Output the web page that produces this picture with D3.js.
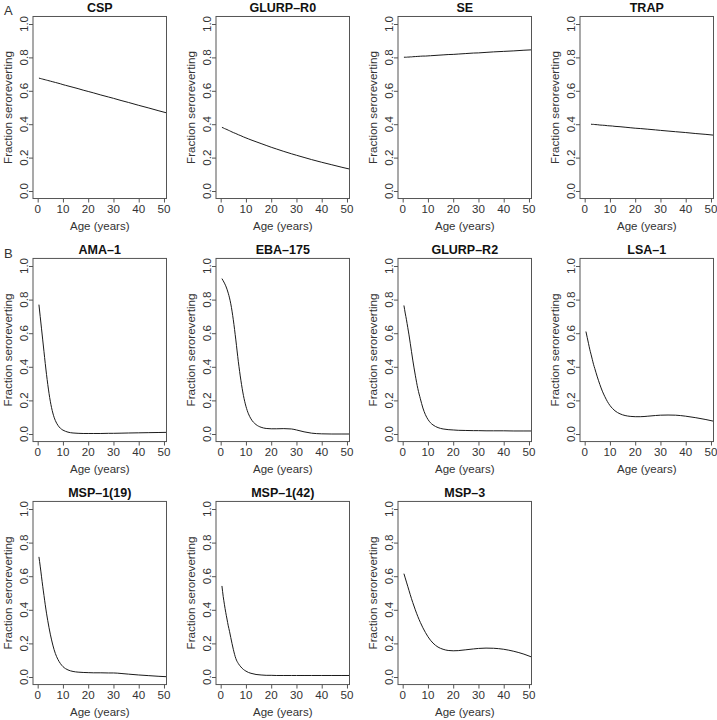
<!DOCTYPE html>
<html>
<head>
<meta charset="utf-8">
<script src="https://cdn.jsdelivr.net/npm/d3@7"></script>
<style>
  html, body { margin: 0; padding: 0; background: #fff; }
  svg { display: block; font-family: "Liberation Sans", Arial, Helvetica, sans-serif; }
</style>
</head>
<body>
<svg id="chart" width="717" height="720"></svg>
<script>
// ---------------- DATA ----------------
const antigens = ["CSP", "GLURP–R0", "SE", "TRAP", "AMA–1", "EBA–175", "GLURP–R2", "LSA–1", "MSP–1(19)", "MSP–1(42)", "MSP–3"];
const sectionLabels = ["A", "B"];
const xTicks = [0, 10, 20, 30, 40, 50];
const yTicks = [0, 0.2, 0.4, 0.6, 0.8, 1.0];
const xTitle = "Age (years)";
const yTitle = "Fraction seroreverting";

const ages = [0.5, 1, 1.5, 2, 2.5, 3, 3.5, 4, 5, 6, 7, 8, 9, 10, 11, 12, 14, 16, 18, 20, 22, 25, 28, 30, 33, 36, 40, 44, 48, 52];

const csp     = [0.676, 0.674, 0.672, 0.670, 0.668, 0.666, 0.664, 0.662, 0.658, 0.654, 0.650, 0.646, 0.642, 0.637, 0.633, 0.629, 0.621, 0.613, 0.604, 0.596, 0.588, 0.575, 0.563, 0.555, 0.542, 0.530, 0.513, 0.497, 0.480, 0.464];
const glurpR0 = [0.381, 0.378, 0.374, 0.371, 0.368, 0.364, 0.361, 0.357, 0.350, 0.344, 0.337, 0.331, 0.324, 0.318, 0.312, 0.306, 0.295, 0.284, 0.273, 0.262, 0.252, 0.237, 0.223, 0.214, 0.201, 0.188, 0.172, 0.157, 0.142, 0.128];
const se      = [0.801, 0.801, 0.801, 0.802, 0.802, 0.803, 0.803, 0.804, 0.805, 0.806, 0.807, 0.808, 0.808, 0.809, 0.810, 0.811, 0.813, 0.815, 0.817, 0.818, 0.820, 0.823, 0.826, 0.827, 0.830, 0.833, 0.836, 0.839, 0.843, 0.846];
const trap    = [null, null, null, null, 0.400, 0.399, 0.399, 0.398, 0.397, 0.395, 0.394, 0.393, 0.391, 0.390, 0.389, 0.387, 0.385, 0.382, 0.379, 0.376, 0.374, 0.370, 0.366, 0.363, 0.359, 0.355, 0.350, 0.344, 0.339, 0.333];
const ama1    = [0.770, 0.700, 0.630, 0.560, 0.490, 0.420, 0.355, 0.295, 0.195, 0.125, 0.080, 0.052, 0.034, 0.023, 0.016, 0.011, 0.006, 0.004, 0.003, 0.003, 0.003, 0.003, 0.004, 0.004, 0.005, 0.006, 0.007, 0.008, 0.009, 0.010];
const eba175  = [0.925, 0.912, 0.898, 0.882, 0.862, 0.838, 0.810, 0.775, 0.680, 0.560, 0.430, 0.320, 0.230, 0.165, 0.120, 0.090, 0.056, 0.040, 0.033, 0.031, 0.031, 0.032, 0.030, 0.024, 0.013, 0.005, 0.001, 0.000, 0.000, 0.000];
const glurpR2 = [0.765, 0.720, 0.680, 0.635, 0.590, 0.540, 0.490, 0.440, 0.350, 0.270, 0.210, 0.155, 0.115, 0.087, 0.067, 0.054, 0.038, 0.030, 0.026, 0.024, 0.022, 0.021, 0.020, 0.020, 0.019, 0.019, 0.019, 0.018, 0.018, 0.018];
const lsa1    = [0.610, 0.575, 0.540, 0.505, 0.475, 0.445, 0.415, 0.390, 0.340, 0.295, 0.255, 0.222, 0.193, 0.170, 0.152, 0.138, 0.120, 0.110, 0.105, 0.103, 0.103, 0.106, 0.110, 0.112, 0.113, 0.112, 0.106, 0.097, 0.086, 0.073];
const msp119  = [0.715, 0.660, 0.600, 0.540, 0.485, 0.430, 0.380, 0.335, 0.255, 0.190, 0.140, 0.105, 0.080, 0.062, 0.050, 0.042, 0.033, 0.029, 0.027, 0.026, 0.025, 0.025, 0.024, 0.024, 0.021, 0.017, 0.012, 0.008, 0.004, 0.001];
const msp142  = [0.542, 0.480, 0.430, 0.385, 0.345, 0.305, 0.272, 0.235, 0.165, 0.110, 0.080, 0.060, 0.045, 0.035, 0.027, 0.022, 0.015, 0.012, 0.010, 0.010, 0.009, 0.009, 0.009, 0.009, 0.009, 0.009, 0.009, 0.009, 0.009, 0.009];
const msp3    = [0.615, 0.590, 0.565, 0.540, 0.515, 0.490, 0.466, 0.443, 0.400, 0.360, 0.325, 0.293, 0.265, 0.240, 0.219, 0.202, 0.178, 0.165, 0.158, 0.156, 0.157, 0.162, 0.167, 0.170, 0.172, 0.171, 0.165, 0.153, 0.136, 0.113];

const seriesList = [csp, glurpR0, se, trap, ama1, eba175, glurpR2, lsa1, msp119, msp142, msp3];

// ---------------- LAYOUT ----------------
const colLeft = [33, 216, 398, 580];
const boxW = 133.5;
const rowY0 = [191, 434, 677];   // pixel of value 0
const rowY1 = [24, 266, 509];    // pixel of value 1
const xDomain = [-1.85, 51.0];
const yDomain = [-0.045, 1.045];
const panelRowCol = [[0,0],[0,1],[0,2],[0,3],[1,0],[1,1],[1,2],[1,3],[2,0],[2,1],[2,2]];

const boxColor = "#555";
const textColor = "#333";

const svg = d3.select("#chart");
const defs = svg.append("defs");

antigens.forEach((name, i) => {
  const [r, c] = panelRowCol[i];
  const L = colLeft[c];
  const x = d3.scaleLinear().domain(xDomain).range([L, L + boxW]);
  const y = d3.scaleLinear().domain([0, 1]).range([rowY0[r], rowY1[r]]);
  const top = y(yDomain[1]), bottom = y(yDomain[0]);
  const g = svg.append("g");

  defs.append("clipPath").attr("id", "clip" + i)
    .append("rect").attr("x", L).attr("y", top).attr("width", boxW).attr("height", bottom - top);

  const xAxis = d3.axisBottom(x).tickValues(xTicks).tickSize(4).tickFormat("");
  const gx = g.append("g").attr("transform", `translate(0,${bottom})`).call(xAxis);
  gx.select(".domain").remove();
  gx.selectAll("line").attr("stroke", boxColor);

  const yAxis = d3.axisLeft(y).tickValues(yTicks).tickSize(4).tickFormat("");
  const gy = g.append("g").attr("transform", `translate(${L},0)`).call(yAxis);
  gy.select(".domain").remove();
  gy.selectAll("line").attr("stroke", boxColor);

  g.selectAll(".xl").data(xTicks).join("text")
    .attr("x", d => x(d)).attr("y", bottom + 14.5)
    .attr("text-anchor", "middle").attr("font-size", 11.6).attr("fill", textColor)
    .text(d => d);
  g.selectAll(".yl").data(yTicks).join("text")
    .attr("transform", d => `translate(${L - 5},${y(d)}) rotate(-90)`)
    .attr("text-anchor", "middle").attr("font-size", 11.6).attr("fill", textColor)
    .text(d => d3.format(".1f")(d));

  g.append("text")
    .attr("x", L + boxW / 2).attr("y", bottom + 31.5)
    .attr("text-anchor", "middle").attr("font-size", 11.5).attr("fill", textColor)
    .text(xTitle);
  g.append("text")
    .attr("transform", `translate(${L - 21},${(top + bottom) / 2}) rotate(-90)`)
    .attr("text-anchor", "middle").attr("font-size", 11.6).attr("fill", textColor)
    .text(yTitle);

  g.append("text")
    .attr("x", L + boxW / 2).attr("y", top - 4)
    .attr("text-anchor", "middle").attr("font-size", 12.5).attr("font-weight", "bold").attr("fill", "#111")
    .text(name);

  const pts = ages.map((a, k) => [a, seriesList[i][k]]);
  const line = d3.line()
    .defined(d => d[1] !== null)
    .x(d => x(d[0])).y(d => y(d[1]))
    .curve(d3.curveMonotoneX);
  g.append("path").datum(pts)
    .attr("d", line)
    .attr("fill", "none").attr("stroke", "#1a1a1a").attr("stroke-width", 1)
    .attr("clip-path", `url(#clip${i})`);

  g.append("rect").attr("x", L).attr("y", top).attr("width", boxW).attr("height", bottom - top)
    .attr("fill", "none").attr("stroke", boxColor).attr("stroke-width", 1);
});

svg.append("text").attr("x", 4).attr("y", 15).attr("font-size", 13).attr("fill", textColor).text(sectionLabels[0]);
svg.append("text").attr("x", 4).attr("y", 258).attr("font-size", 13).attr("fill", textColor).text(sectionLabels[1]);
</script>
</body>
</html>
